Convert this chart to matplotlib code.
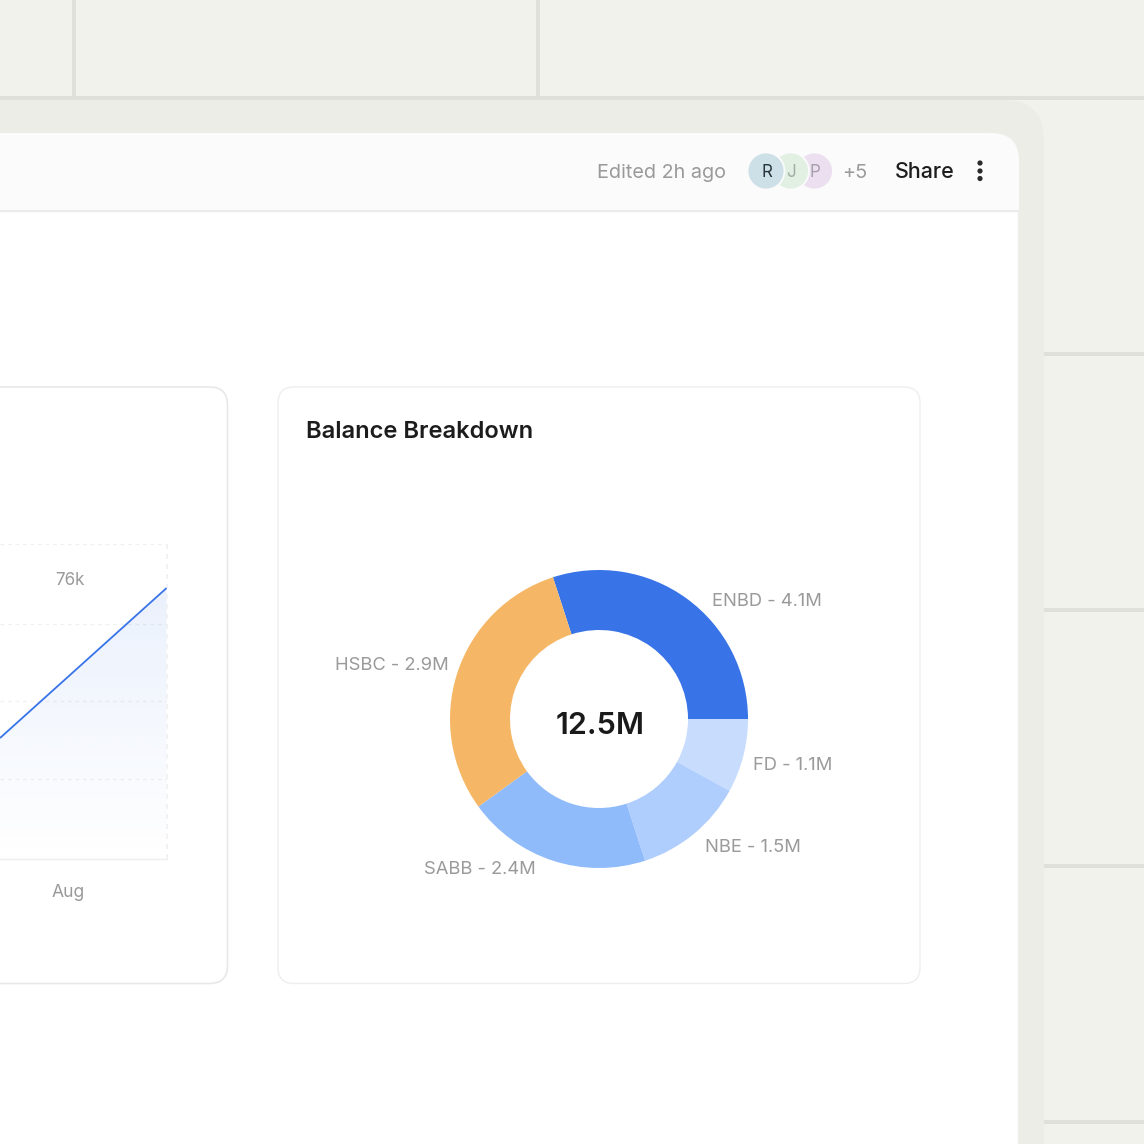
import matplotlib
matplotlib.use('Agg')
import matplotlib.pyplot as plt
import numpy as np
from matplotlib.patches import FancyBboxPatch, Rectangle, Circle

plt.rcParams['font.family'] = ['Inter', 'DejaVu Sans']

# donut data, the arcs are not quite in proportion to the labels
bank_names = ['ENBD', 'FD', 'NBE', 'SABB', 'HSBC']
bank_labels = ['ENBD - 4.1M', 'FD - 1.1M', 'NBE - 1.5M', 'SABB - 2.4M', 'HSBC - 2.9M']
bank_share = [30, 8, 12, 20, 30]
bank_colors = ['#3874e8', '#c8dcfe', '#afcefd', '#90bbfa', '#f5b765']
total_label = '12.5M'

# line chart, only the right end of it is in view
line_x = [0.0, 1.0]
line_y = [38.4, 86.0]
month_pos = [0.41]
month_names = ['Aug']
peak_label = '76k'
grid_levels = [0, 25.4, 50.2, 74.6, 100]

W = 1144
fig = plt.figure(figsize=(W / 100, W / 100), dpi=100, facecolor='#f1f2ec')


def px_axes(left, top, right, bottom, **kw):
    return fig.add_axes([left / W, 1 - bottom / W, (right - left) / W, (bottom - top) / W], **kw)


def pt(px):
    return px * 0.72


# page in pixel coordinates
bg = px_axes(0, 0, W, W)
bg.set_xlim(0, W)
bg.set_ylim(W, 0)
bg.axis('off')


def box(x0, y0, x1, y1, r, fc, ec='none', lw=0, z=1):
    p = FancyBboxPatch((x0 + r, y0 + r), x1 - x0 - 2 * r, y1 - y0 - 2 * r,
                       boxstyle='round,pad=%f,rounding_size=%f' % (r, r),
                       fc=fc, ec=ec, lw=lw, zorder=z, mutation_aspect=1)
    bg.add_patch(p)


line_col = '#dfe0da'
bg.add_patch(Rectangle((72, 0), 4, 98, fc=line_col, ec='none', zorder=0))
bg.add_patch(Rectangle((536, 0), 4, 98, fc=line_col, ec='none', zorder=0))
bg.add_patch(Rectangle((0, 96), W, 4, fc=line_col, ec='none', zorder=0))
for yy in [352, 608, 864, 1120]:
    bg.add_patch(Rectangle((1040, yy), 110, 4, fc=line_col, ec='none', zorder=0))

# outer frame and window
box(-60, 100, 1044, 1300, 40, '#ecede7', z=1)
box(-60, 133, 1019, 1300, 28, '#fbfbfb', z=2)
bg.add_patch(Rectangle((-5, 211), 1023, 1000, fc='white', ec='#eeeeec', lw=1, zorder=3))
bg.add_patch(Rectangle((-5, 210), 1024, 1.5, fc='#ebebeb', ec='none', zorder=3))

# cards
box(-60, 387, 227.5, 983.5, 18, 'white', '#e8e8e8', 1.2, z=4)
box(278, 387, 920, 983.5, 16, 'white', '#eeeeee', 1.0, z=4)

# header
grey = '#9a9a9a'
bg.text(597, 172.5, 'Edited 2h ago', fontsize=pt(19.8), color=grey, va='center', ha='left', zorder=6)
for cx, col, ch, tc in [(814.5, '#ecdff0', 'P', '#a6a0aa'), (790.5, '#e1f0e3', 'J', '#a3aca4'),
                        (766, '#cde0e8', 'R', '#27343a')]:
    bg.add_patch(Circle((cx, 171), 18.5, fc=col, ec='#fbfbfb', lw=1.3, zorder=6))
    bg.text(cx + 0.5, 172.5, ch, fontsize=pt(17), color=tc, va='center', ha='center', zorder=7)
bg.text(855, 172.5, '+5', fontsize=pt(20), color=grey, va='center', ha='center', zorder=6)
bg.text(895, 172.5, 'Share', fontsize=pt(21.5), color='#1e1e1e', weight='medium', va='center', ha='left', zorder=6)
for yy in [163, 171, 178.5]:
    bg.add_patch(Circle((980, yy), 2.6, fc='#2a2a2a', ec='none', zorder=6))

bg.text(306, 431.5, 'Balance Breakdown', fontsize=pt(23.7), color='#1c1c1c', weight='semibold',
        va='center', ha='left', zorder=6)

# line chart
ax = px_axes(0, 544, 166.5, 859)
ax.patch.set_alpha(0)
ax.set_xlim(0, 1)
ax.set_ylim(0, 100)
for s in ['top', 'left', 'right']:
    ax.spines[s].set_visible(False)
ax.spines['bottom'].set_color('#eeeeee')
ax.spines['bottom'].set_linewidth(1)
ax.set_yticks(grid_levels)
ax.set_yticklabels([])
ax.tick_params(axis='y', length=0)
ax.set_xticks(month_pos)
ax.set_xticklabels(month_names, fontsize=pt(17.5), color=grey)
ax.tick_params(axis='x', length=0, pad=18)
ax.grid(axis='y', color='#f0f0f0', lw=0.9, ls=(0, (3, 3)))
ax.axvline(1, color='#f0f0f0', lw=1.2, ls=(0, (3, 3)), clip_on=False)
ax.set_axisbelow(True)
fill = ax.fill_between(line_x, line_y, 0, color='none')
grad = np.zeros((256, 2, 4))
grad[..., :3] = matplotlib.colors.to_rgb('#3874e8')
grad[..., 3] = np.linspace(0.11, 0.0, 256)[:, None]
img = ax.imshow(grad, extent=[0, 1, 0, 90], origin='upper', aspect='auto', zorder=1.5)
img.set_clip_path(fill.get_paths()[0], ax.transData)
ax.set_xlim(0, 1)
ax.set_ylim(0, 100)
ax.plot(line_x, line_y, color='#3874e8', lw=1.3, zorder=3, solid_capstyle='butt')
ax.text(0.42, 88.5, peak_label, fontsize=pt(17), color=grey, ha='center', va='center')

# donut
dn = px_axes(450, 570, 748, 868)
wedges, _ = dn.pie(bank_share, colors=bank_colors, startangle=108, counterclock=False,
                   radius=1, wedgeprops={'width': 60 / 149, 'linewidth': 0})
dn.set_xlim(-1, 1)
dn.set_ylim(-1, 1)
dn.text(0.005, -0.05, total_label, fontsize=pt(30.5), color='#1a1a1a', weight='semibold', ha='center', va='center')

bg.set_zorder(0)
ax.set_zorder(5)
dn.set_zorder(5)
lab = px_axes(0, 0, W, W)
lab.set_xlim(0, W)
lab.set_ylim(W, 0)
lab.axis('off')
lab.set_zorder(6)
label_pos = {'ENBD': (712, 601.5, 'left'), 'FD': (753, 765.5, 'left'), 'NBE': (705, 847, 'left'),
             'SABB': (536, 869.5, 'right'), 'HSBC': (449, 665, 'right')}
for name, text in zip(bank_names, bank_labels):
    x, y, ha = label_pos[name]
    lab.text(x, y, text, fontsize=pt(18.4), color=grey, ha=ha, va='center')

fig.savefig('out.png', dpi=100, facecolor=fig.get_facecolor())
